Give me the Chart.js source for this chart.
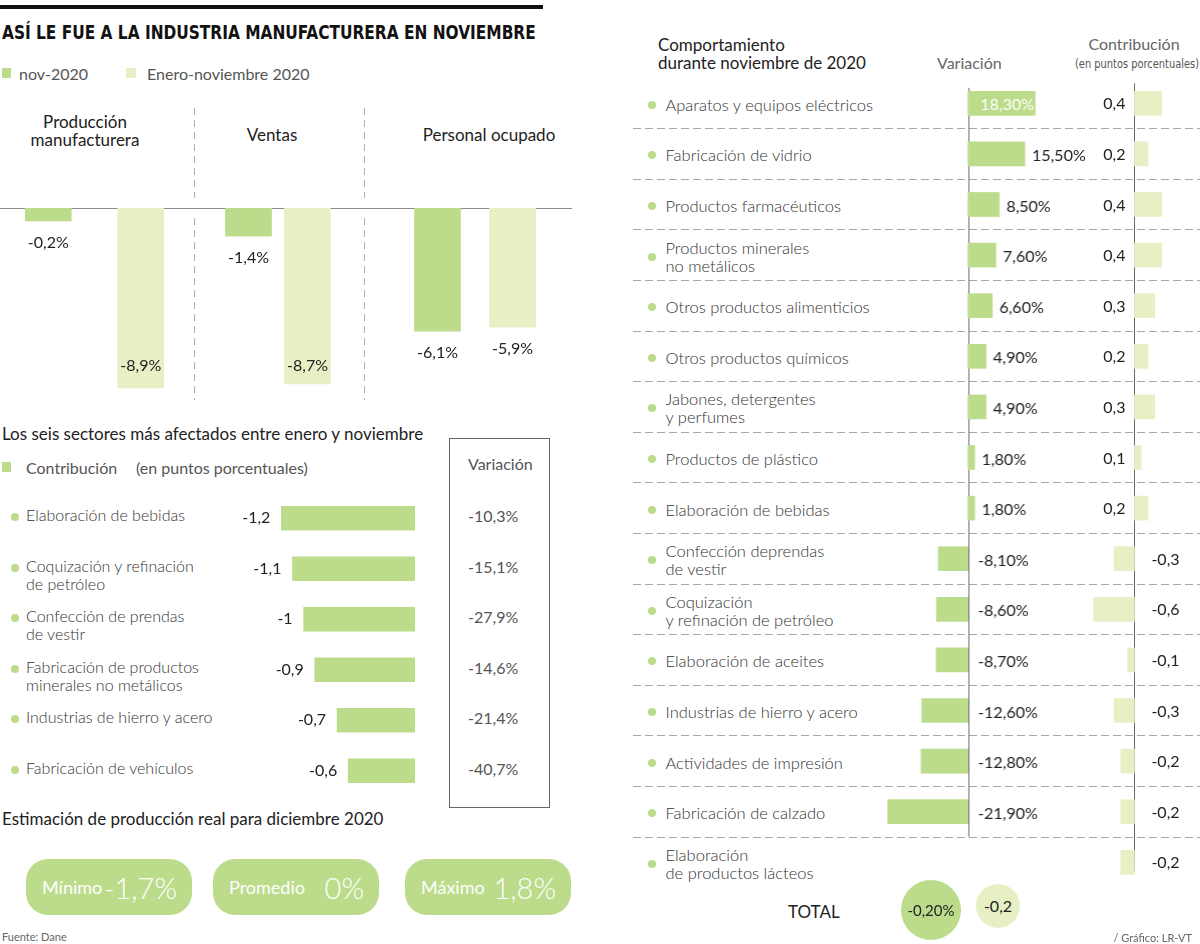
<!DOCTYPE html>
<html lang="es">
<head>
<meta charset="utf-8">
<title>Industria manufacturera noviembre 2020</title>
<script src="https://cdn.jsdelivr.net/npm/chart.js@4.4.1/dist/chart.umd.min.js"></script>
<style>
  html, body { margin: 0; padding: 0; background: #fff; }
  #stage { position: relative; width: 1200px; height: 944px; overflow: hidden;
           font-family: Lato, "Open Sans", sans-serif; color: #3a3a3a; }
  .abs { position: absolute; white-space: nowrap; }
  .dot { position: absolute; width: 8px; height: 8px; border-radius: 50%; background: #bcdc8c;
         transform: translate(-50%, -50%); }
  .hdash { position: absolute; height: 1px;
           background: repeating-linear-gradient(90deg, #a8a8a8 0 8px, transparent 8px 12px); }
  .vdash { position: absolute; width: 1px;
           background: repeating-linear-gradient(180deg, #b0b0b0 0 7px, transparent 7px 12px); }
  .pill { position: absolute; height: 56px; width: 166px; border-radius: 22px; background: #bcdc8c;
          color: #fff; display: flex; align-items: center; justify-content: space-between;
          box-sizing: border-box; padding: 0 15px 0 16px; }
  .pill .lab { font-size: 18px; }
  .pill .val { font-size: 29px; font-weight: 300; }
  .circle { position: absolute; border-radius: 50%; display: flex; align-items: center;
            justify-content: center; color: #222; transform: translate(-50%, -50%); }
  .light { font-weight: 300; }
</style>
</head>
<body>
<div id="stage"></div>
<script>
'use strict';

const DARK = '#bcdc8c';
const LIGHT = '#e6f0c4';

// --- top chart: variación anual
const groupNames = ['Producción\nmanufacturera', 'Ventas', 'Personal ocupado'];
const seriesNames = ['nov-2020', 'Enero-noviembre 2020'];
const nov2020 = [-0.2, -1.4, -6.1];
const eneNov2020 = [-8.9, -8.7, -5.9];

// --- seis sectores más afectados (enero-noviembre)
const worstSectors = ['Elaboración de bebidas', 'Coquización y refinación\nde petróleo',
  'Confección de prendas\nde vestir', 'Fabricación de productos\nminerales no metálicos',
  'Industrias de hierro y acero', 'Fabricación de vehículos'];
const worstContribution = [-1.2, -1.1, -1, -0.9, -0.7, -0.6];
const worstVariation = [-10.3, -15.1, -27.9, -14.6, -21.4, -40.7];

// --- estimación diciembre
const estimateNames = ['Mínimo', 'Promedio', 'Máximo'];
const estimateValues = [-1.7, 0, 1.8];

// --- comportamiento durante noviembre
const novSectors = ['Aparatos y equipos eléctricos', 'Fabricación de vidrio', 'Productos farmacéuticos',
  'Productos minerales\nno metálicos', 'Otros productos alimenticios', 'Otros productos químicos',
  'Jabones, detergentes\ny perfumes', 'Productos de plástico', 'Elaboración de bebidas',
  'Confección deprendas\nde vestir', 'Coquización\ny refinación de petróleo', 'Elaboración de aceites',
  'Industrias de hierro y acero', 'Actividades de impresión', 'Fabricación de calzado',
  'Elaboración\nde productos lácteos'];
const novVariation = [18.3, 15.5, 8.5, 7.6, 6.6, 4.9, 4.9, 1.8, 1.8, -8.1, -8.6, -8.7, -12.6, -12.8, -21.9, null];
const novContribution = [0.4, 0.2, 0.4, 0.4, 0.3, 0.2, 0.3, 0.1, 0.2, -0.3, -0.6, -0.1, -0.3, -0.2, -0.2, -0.2];
const totalVariation = -0.2;
const totalContribution = -0.2;

const stage = document.getElementById('stage');

function fmt(v, digits) {
    const s = digits == null ? String(v) : v.toFixed(digits);
    return s.replace('.', ',');
}

// text centred vertically on y; anchor l / c / r
function put(html, x, y, css, anchor) {
    const el = document.createElement('div');
    el.className = 'abs';
    el.innerHTML = html;
    el.style.cssText += css || '';
    el.style.left = x + 'px';
    el.style.top = y + 'px';
    const tx = anchor === 'c' ? '-50%' : anchor === 'r' ? '-100%' : '0';
    el.style.transform = `translate(${tx}, -50%)`;
    stage.appendChild(el);
    return el;
}

function rect(cls, x, y, w, h, css) {
    const el = document.createElement('div');
    el.className = cls;
    el.style.cssText += `left:${x}px;top:${y}px;width:${w}px;height:${h}px;` + (css || '');
    stage.appendChild(el);
    return el;
}

// label block, y = first line
function lines(text, x, y, css) {
    const el = document.createElement('div');
    el.className = 'abs light';
    el.style.cssText += 'line-height:18px;font-size:16px;' + (css || '');
    el.innerHTML = text.split('\n').join('<br>');
    el.style.left = x + 'px';
    el.style.top = (y - 9) + 'px';
    stage.appendChild(el);
    return el;
}

// squeeze a text element horizontally to a printed width
function fitWidth(el, width, anchor) {
    const w = el.getBoundingClientRect().width;
    const tx = anchor === 'c' ? '-50%' : '0';
    el.style.transformOrigin = anchor === 'c' ? 'center center' : 'left center';
    el.style.transform = `translate(${tx}, -50%) scaleX(${(width / w).toFixed(3)})`;
}

function canvasAt(x, y, w, h) {
    const d = document.createElement('div');
    d.style.cssText = `position:absolute;left:${x}px;top:${y}px;width:${w}px;height:${h}px;`;
    const c = document.createElement('canvas');
    d.appendChild(c);
    stage.appendChild(d);
    return c;
}

function barLabels(format, place) {
    return {
        id: 'barLabels',
        afterDatasetsDraw(chart) {
            const ctx = chart.ctx;
            const values = chart.data.datasets[0].data;
            ctx.save();
            ctx.textBaseline = 'middle';
            chart.getDatasetMeta(0).data.forEach((bar, i) => {
                if (values[i] == null) return;
                const text = format(values[i]);
                ctx.font = '16px Lato, sans-serif';
                const p = place(bar, values[i], chart, ctx.measureText(text).width);
                ctx.fillStyle = p.color || '#222';
                ctx.textAlign = p.align;
                ctx.fillText(text, p.x, p.y);
            });
            ctx.restore();
        }
    };
}

function zeroLine(fromIdx, fromOff, toIdx, toOff) {
    return {
        id: 'zeroLine',
        beforeDatasetsDraw(chart) {
            const ctx = chart.ctx;
            const x = Math.round(chart.scales.x.getPixelForValue(0)) + 0.5;
            ctx.save();
            ctx.strokeStyle = '#6a6a6a';
            ctx.lineWidth = 1;
            ctx.beginPath();
            ctx.moveTo(x, chart.scales.y.getPixelForValue(fromIdx) + fromOff);
            ctx.lineTo(x, chart.scales.y.getPixelForValue(toIdx) + toOff);
            ctx.stroke();
            ctx.restore();
        }
    };
}

function baseOptions(indexAxis, xRange, yRange) {
    return {
        indexAxis: indexAxis,
        responsive: true,
        maintainAspectRatio: false,
        animation: false,
        events: [],
        layout: { padding: 0 },
        plugins: { legend: { display: false }, tooltip: { enabled: false } },
        scales: {
            x: Object.assign({ display: false }, xRange),
            y: Object.assign({ display: false }, yRange)
        }
    };
}

// ---------------- header
rect('abs', 0, 5, 543, 4, 'background:#111;');
const title = put('ASÍ LE FUE A LA INDUSTRIA MANUFACTURERA EN NOVIEMBRE', 2, 32,
    'font-family:"Liberation Sans Narrow","DejaVu Sans Condensed",sans-serif;font-weight:bold;font-size:20px;color:#111;');

rect('abs', 2, 68, 9, 10, 'background:' + DARK);
put(seriesNames[0], 19, 73, 'font-size:16px;color:#555;');
rect('abs', 126, 68, 10, 10, 'background:' + LIGHT);
put(seriesNames[1], 147, 73, 'font-size:16px;color:#555;');

// ---------------- top chart
const groupCentres = [85, 272, 489];
groupNames.forEach((name, g) => {
    const n = name.split('\n').length;
    put(name.split('\n').join('<br>'), groupCentres[g], 131 + (n === 1 ? 4 : 0),
        'font-size:17px;line-height:18px;text-align:center;color:#222;', 'c');
});
[194, 364].forEach(x => {
    rect('vdash', x, 108, 1, 90);
    rect('vdash', x, 218, 1, 182);
});
rect('abs', 0, 208, 572, 1, 'background:#8a8a8a;');

const topBoxes = [[2.4, 185], [218.5, 118], [399.5, 150]];
topBoxes.forEach((b, g) => {
    new Chart(canvasAt(b[0], 208, b[1], 192), {
        type: 'bar',
        data: {
            labels: seriesNames,
            datasets: [{
                data: [nov2020[g], eneNov2020[g]],
                backgroundColor: [DARK, LIGHT],
                barThickness: 46,
                minBarLength: 13
            }]
        },
        options: baseOptions('x', {}, { min: -9.5, max: 0 }),
        plugins: [barLabels(v => fmt(v, 1) + '%', (bar, v, chart) => ({
            x: bar.x,
            y: Math.min(bar.y + 22, chart.chartArea.bottom - 34),
            align: 'center'
        }))]
    });
});

// ---------------- six most affected sectors
put('Los seis sectores más afectados entre enero y noviembre', 2, 433, 'font-size:17px;color:#222;');
rect('abs', 2, 462, 9, 10, 'background:' + DARK);
put('Contribución', 26, 467, 'font-size:16px;color:#555;');
put('(en puntos porcentuales)', 136, 467, 'font-size:16px;color:#555;');
rect('abs', 449, 438, 99, 368, 'border:1px solid #666;');
put('Variación', 468, 463, 'font-size:16px;color:#555;');

const worstTop = 492.75, worstStep = 50.5;
worstSectors.forEach((name, i) => {
    const yc = worstTop + worstStep * (i + 0.5);
    const first = yc - 3;
    rect('dot', 15, first + 2, 8, 8);
    lines(name, 26, first, 'color:#333;');
    put(fmt(worstVariation[i], 1) + '%', 468, first, 'font-size:16px;color:#555;');
});

new Chart(canvasAt(169.6, worstTop, 245, worstStep * worstSectors.length), {
    type: 'bar',
    data: {
        labels: worstSectors,
        datasets: [{ data: worstContribution, backgroundColor: DARK, barThickness: 24 }]
    },
    options: baseOptions('y', { min: -2.2, max: 0 }, {}),
    plugins: [barLabels(v => fmt(v), (bar) => ({ x: bar.x - 11, y: bar.y, align: 'right' }))]
});

// ---------------- December estimate
put('Estimación de producción real para diciembre 2020', 2, 818, 'font-size:17px;color:#222;');
const pillLefts = [26, 213, 405];
estimateNames.forEach((name, i) => {
    const p = rect('pill', pillLefts[i], 859, 166, 56);
    p.innerHTML = `<span class="lab">${name}</span><span class="val">${fmt(estimateValues[i])}%</span>`;
});
put('Fuente: Dane', 2, 936, 'font-size:11px;color:#666;');

// ---------------- right panel: noviembre
put('Comportamiento<br>durante noviembre de 2020', 658, 54, 'font-size:17px;line-height:18px;color:#222;');
put('Variación', 937, 62, 'font-size:16px;color:#666;');
put('Contribución', 1134, 43, 'font-size:16px;color:#666;', 'c');
const units = put('(en puntos porcentuales)', 1136.5, 63,
    'font-family:"Liberation Sans Narrow","DejaVu Sans Condensed",sans-serif;font-size:13px;color:#555;', 'c');
fitWidth(units, 124, 'c');

const novTop = 77.5, novStep = 50.6, novH = novStep * novSectors.length;
for (let i = 1; i < novSectors.length; i++) {
    rect('hdash', 633, Math.round(novTop + novStep * i), 567, 1);
}
novSectors.forEach((name, i) => {
    const yc = novTop + novStep * (i + 0.5);
    const n = name.split('\n').length;
    rect('dot', 651.5, yc + 2, 8, 8);
    lines(name, 665.5, yc + 2 - (n - 1) * 9, 'font-size:16.5px;color:#333;');
});

new Chart(canvasAt(880.2, novTop, 58 * 3.65, novH), {
    type: 'bar',
    data: {
        labels: novSectors,
        datasets: [{ data: novVariation, backgroundColor: DARK, barThickness: 24 }]
    },
    options: baseOptions('y', { min: -24, max: 34 }, {}),
    plugins: [
        zeroLine(0, -15.5, 14, 25),
        barLabels(v => fmt(v, 2) + '%', (bar, v, chart, w) => {
            const zero = chart.scales.x.getPixelForValue(0);
            if (v > 0 && bar.x - zero > w + 4) return { x: bar.x - 1, y: bar.y + 2, align: 'right', color: '#fff' };
            if (v > 0) return { x: bar.x + 7, y: bar.y + 2, align: 'left' };
            return { x: zero + 10, y: bar.y + 2, align: 'left' };
        })
    ]
});

new Chart(canvasAt(1079.6, novTop, 120.4, novH), {
    type: 'bar',
    data: {
        labels: novSectors,
        datasets: [{ data: novContribution, backgroundColor: LIGHT, barThickness: 24 }]
    },
    options: baseOptions('y', { min: -0.8, max: 0.97 }, {}),
    plugins: [
        zeroLine(0, -20, 15, 9),
        barLabels(v => fmt(v), (bar, v, chart) => {
            const zero = chart.scales.x.getPixelForValue(0);
            return v > 0 ? { x: zero - 9, y: bar.y + 1, align: 'right' }
                         : { x: zero + 17, y: bar.y + 1, align: 'left' };
        })
    ]
});

// total
put('TOTAL', 788, 911, 'font-size:17px;color:#222;');
const c1 = rect('circle', 931, 910, 60, 60, 'background:' + DARK + ';font-size:15px;');
c1.textContent = fmt(totalVariation, 2) + '%';
const c2 = rect('circle', 998, 905.5, 44, 44, 'background:' + LIGHT + ';font-size:16px;');
c2.textContent = fmt(totalContribution);
put('/ Gráfico: LR-VT', 1192, 937, 'font-size:11px;color:#666;', 'r');

fitWidth(title, 534);
</script>
</body>
</html>
